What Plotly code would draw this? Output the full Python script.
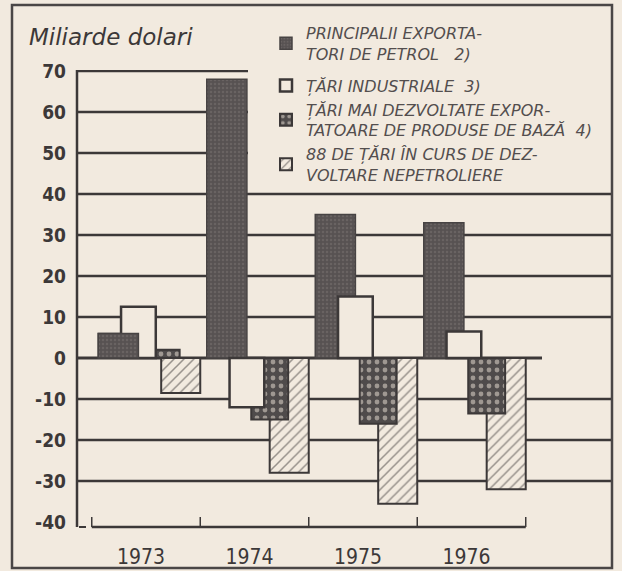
import plotly.graph_objects as go

# ---------------- data ----------------
years = ["1973", "1974", "1975", "1976"]
petrol = [6, 68, 35, 33]              # Principalii exportatori de petrol
industriale = [12.5, -12, 15, 6.5]    # Tari industriale
baza = [2, -15, -16, -13.5]           # Tari mai dezvoltate exportatoare de produse de baza
nepetroliere = [-8.5, -28, -35.5, -32]  # 88 de tari in curs de dezvoltare nepetroliere

y_ticks = [70, 60, 50, 40, 30, 20, 10, 0, -10, -20, -30, -40]
y_ticktext = ["70", "60", "50", "40", "30", "20", "10", "0", "-10", "-20", "-30", "-40"]
phase_years = ["1975", "1976"]
phase_labels = ["ESTIMAȚIE", "PROGNOZĂ"]
y_title = "Miliarde dolari"
NB = "\u00a0"
legend_names = [
    "PRINCIPALII EXPORTA-<br>TORI DE PETROL" + NB * 3 + "2)",
    "ȚĂRI INDUSTRIALE" + NB * 2 + "3)",
    "ȚĂRI MAI DEZVOLTATE EXPOR-<br>TATOARE DE PRODUSE DE BAZĂ" + NB * 2 + "4)",
    "88 DE ȚĂRI ÎN CURS DE DEZ-<br>VOLTARE NEPETROLIERE",
]

# ---------------- styling / layout ----------------
W, H = 622, 571
L, R, T, B = 77, 10, 70, 44
PW, PH = W - L - R, H - T - B
BG = "#f2eadf"
INK = "#3c3838"
DARK = "#575252"


def px(x):
    return (x - L) / PW


def py(y):
    return (H - B - y) / PH


fig = go.Figure()

line = dict(color=INK, width=2)

hatch = go.Bar(
    x=years, y=nepetroliere, name=legend_names[3], legendrank=4, legendgroup="rest",
    offset=0.14, width=0.36,
    marker=dict(color=BG, line=line,
                pattern=dict(shape="/", bgcolor=BG, fgcolor=INK, size=7, solidity=0.22)),
)
dots = go.Bar(
    x=years, y=baza, name=legend_names[2], legendrank=3, legendgroup="rest",
    offset=-0.03, width=0.34,
    marker=dict(color="#4f4b4b", line=line,
                pattern=dict(shape=".", bgcolor="#4f4b4b", fgcolor="#efe6da", size=8, solidity=0.28)),
)
pet_marker = dict(color=DARK, line=dict(color="#474343", width=1.5),
                  pattern=dict(shape=".", bgcolor=DARK, fgcolor="#7a7472", size=4, solidity=0.3))
pet = go.Bar(
    x=years, y=petrol, name=legend_names[0], legendrank=1, legendgroup="oil",
    offset=-0.44, width=0.37, marker=pet_marker,
)
ind = go.Bar(
    x=years, y=industriale, name=legend_names[1], legendrank=2, legendgroup="rest",
    offset=-0.23, width=0.32,
    marker=dict(color=BG, line=dict(color=INK, width=2.5)),
)
# in 1973 the oil-exporters bar is drawn over the industrial one
pet_front = go.Bar(
    x=years, y=[petrol[0], None, None, None], showlegend=False, legendgroup="oil", legendrank=1,
    offset=-0.44, width=0.37, marker=pet_marker,
)
for tr in (hatch, dots, pet, ind, pet_front):
    tr.update(hoverinfo="skip")
    fig.add_trace(tr)

shapes = []
# horizontal rules
for v in y_ticks:
    if v == -40:
        continue
    if v == 0:
        x1, w = px(542), 3
    elif v >= 50:
        x1, w = px(248), 2.5
    else:
        x1, w = 1, 2.5
    shapes.append(dict(type="line", xref="paper", yref="y", x0=0, x1=x1, y0=v, y1=v,
                       line=dict(color=INK, width=w), layer="below"))
# left axis line
shapes.append(dict(type="line", xref="paper", yref="paper", x0=0, x1=0, y0=0.0, y1=1,
                   line=dict(color=INK, width=2.5)))
# bottom time axis with boundary ticks
shapes.append(dict(type="line", xref="x", yref="paper", x0=-0.5, x1=len(years) - 0.5, y0=0, y1=0,
                   line=dict(color=INK, width=2.5)))
shapes.append(dict(type="line", xref="paper", yref="paper", x0=px(79), x1=px(86), y0=0, y1=0,
                   line=dict(color=INK, width=2)))
for i in range(len(years) + 1):
    shapes.append(dict(type="line", xref="x", yref="paper", x0=i - 0.5, x1=i - 0.5, y0=0, y1=10 / PH,
                       line=dict(color=INK, width=1.5)))
# outer frame
shapes.append(dict(type="rect", xref="paper", yref="paper", x0=px(12), x1=px(612), y0=py(568), y1=py(5),
                   line=dict(color="#4a4646", width=2.5)))

annotations = [
    dict(text=y_title, xref="paper", yref="paper", x=px(27), y=py(37), xanchor="left", yanchor="middle",
         showarrow=False, font=dict(family="DejaVu Sans", size=23, style="italic", color=INK)),
]
for yr, lab in zip(phase_years, phase_labels):
    annotations.append(dict(text=lab, xref="x", yref="paper", x=yr, y=py(514), xanchor="center",
                            yanchor="middle", showarrow=False,
                            font=dict(family="DejaVu Sans Condensed", size=16, style="italic", color=INK)))

fig.update_layout(
    width=W, height=H, autosize=False,
    margin=dict(l=L, r=R, t=T, b=B, autoexpand=False),
    paper_bgcolor=BG, plot_bgcolor=BG,
    barmode="overlay",
    showlegend=True,
    legend=dict(x=px(266), y=py(16), xanchor="left", yanchor="top", bgcolor="rgba(0,0,0,0)",
                tracegroupgap=8, traceorder="grouped",
                font=dict(family="DejaVu Sans", size=16, style="italic", color="#534e4e")),
    shapes=shapes,
    annotations=annotations,
    xaxis=dict(type="category", range=[-0.636, 4.295], showgrid=False, zeroline=False, showline=False,
               automargin=False, ticks="", ticklabelstandoff=15, ticklabelshift=-5,
               tickfont=dict(family="DejaVu Sans Condensed", size=21, color=INK)),
    yaxis=dict(range=[-41.2, 70.25], tickvals=y_ticks, ticktext=y_ticktext, showgrid=False,
               automargin=False, zeroline=False, showline=False, ticks="", ticklabelstandoff=10,
               tickfont=dict(family="DejaVu Sans Condensed", size=19, color=INK, weight="bold")),
)

fig.write_html("out.html", config={"displayModeBar": False},
               post_script="document.body.style.margin='0';document.body.style.background='%s';" % BG)
